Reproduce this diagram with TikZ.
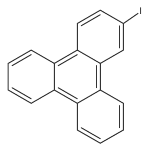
\documentclass[tikz,border=0pt]{standalone}
\usepackage{fontspec}
\setmainfont{Liberation Sans}
\usetikzlibrary{calc}
\tikzset{bond/.style={draw=black!80, line width=0.55pt, line cap=round},
  atomlabel/.style={inner sep=0.5pt, font=\fontsize{5.5}{6}\selectfont, text=black!85}}
\newcommand{\dbond}[3]{\draw[bond] ($(#3)!0.83!(#1)$) -- ($(#3)!0.83!(#2)$);}
\begin{document}
\begin{tikzpicture}[x=0.02cm,y=-0.02cm]
\useasboundingbox (0,0) rectangle (150,150);
% ring centres
\coordinate (c0) at (77.3,76.7);
\coordinate (cl) at (31.2,76.7);
\coordinate (ct) at (100.3,36.8);
\coordinate (cb) at (100.3,116.6);
% central ring
\coordinate (a1) at (77.3,50.1);
\coordinate (a2) at (100.3,63.4);
\coordinate (a3) at (100.3,90);
\coordinate (a4) at (77.3,103.3);
\coordinate (a5) at (54.3,90);
\coordinate (a6) at (54.3,63.4);
% left ring
\coordinate (l1) at (31.2,50.1);
\coordinate (l4) at (31.2,103.3);
\coordinate (l5) at (8.2,90);
\coordinate (l6) at (8.2,63.4);
% top ring
\coordinate (t1) at (100.3,10.2);
\coordinate (t2) at (123.4,23.5);
\coordinate (t3) at (123.4,50.1);
\coordinate (t6) at (77.3,23.5);
% bottom ring
\coordinate (b2) at (123.4,103.3);
\coordinate (b3) at (123.4,130);
\coordinate (b4) at (100.3,143.2);
\coordinate (b5) at (77.3,130);
\node[atomlabel] (I) at (140.6,11.6) {I};
% bonds
\draw[bond] (a1) -- (a2) -- (a3) -- (a4) -- (a5) -- (a6) -- cycle;
\draw[bond] (a6) -- (l1) -- (l6) -- (l5) -- (l4) -- (a5);
\draw[bond] (a1) -- (t6) -- (t1) -- (t2) -- (t3) -- (a2);
\draw[bond] (a3) -- (b2) -- (b3) -- (b4) -- (b5) -- (a4);
\draw[bond] (t2) -- (I);
% inner lines of double bonds
\dbond{l6}{l1}{cl}
\dbond{l5}{l4}{cl}
\dbond{a6}{a1}{c0}
\dbond{a2}{a3}{c0}
\dbond{a4}{a5}{c0}
\dbond{t6}{t1}{ct}
\dbond{t2}{t3}{ct}
\dbond{b2}{b3}{cb}
\dbond{b4}{b5}{cb}
\end{tikzpicture}
\end{document}
